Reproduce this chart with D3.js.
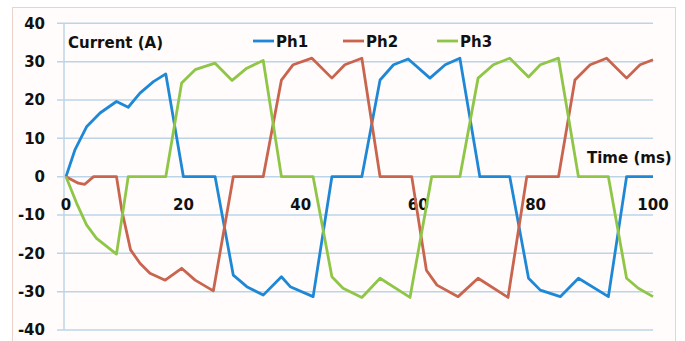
<!DOCTYPE html>
<html>
    <head>
        <script src="https://d3js.org/d3.v7.min.js"></script>
        <style>
            body { margin: 0; background: #ffffff; }
            text { font-family: "DejaVu Sans", sans-serif; font-weight: bold; font-size: 15px; fill: #111111; }
        </style>
    </head>

    <body>

        <div id="chart-container"></div>

        <script>

            // Data
            var ph1Time = [0, 1.5, 3.5, 5.8, 8.6, 10.6, 12.6, 14.9, 17.0, 20.0, 25.4, 28.5, 30.8, 33.6, 36.7, 38.2, 42.1, 45.3, 50.4, 53.5, 55.8, 58.3, 62.0, 64.6, 67.1, 70.5, 75.6, 78.8, 80.8, 84.2, 87.3, 92.4, 95.5, 100];
            var ph1Values = [0, 6.9, 13, 16.6, 19.6, 18.1, 21.8, 24.8, 26.8, 0, 0, -25.7, -28.7, -30.9, -26.1, -28.7, -31.3, 0, 0, 25.2, 29.2, 30.7, 25.7, 29.2, 30.9, 0, 0, -26.5, -29.6, -31.3, -26.5, -31.3, 0, 0];

            var ph2Time = [0, 2.1, 3.2, 4.7, 8.6, 9.5, 11.0, 12.6, 14.3, 16.9, 19.7, 22.0, 25.1, 28.5, 33.6, 36.7, 38.7, 41.9, 45.3, 47.5, 50.4, 53.5, 58.9, 61.4, 63.2, 66.8, 70.2, 75.3, 78.5, 83.9, 86.7, 89.3, 92.1, 95.5, 97.8, 100];
            var ph2Values = [0, -1.7, -2, 0, 0, -8.7, -19.1, -22.6, -25.2, -27.0, -23.9, -27, -29.8, 0, 0, 25.2, 29.2, 30.9, 25.7, 29.2, 30.9, 0, 0, -24.4, -28.3, -31.3, -26.5, -31.5, 0, 0, 25.2, 29.2, 30.9, 25.7, 29.2, 30.5];

            var ph3Time = [0, 1.8, 3.5, 5.2, 8.6, 10.6, 17.0, 19.7, 22.0, 25.4, 28.3, 30.8, 33.6, 36.7, 42.1, 45.3, 47.2, 50.4, 53.5, 58.6, 62.3, 67.1, 70.2, 72.8, 75.6, 78.8, 80.8, 83.9, 87.3, 92.4, 95.5, 97.5, 100];
            var ph3Values = [0, -6.9, -12.6, -16.1, -20.2, 0, 0, 24.4, 27.9, 29.6, 25.1, 28.3, 30.3, 0, 0, -26.1, -29.1, -31.5, -26.5, -31.5, 0, 0, 25.7, 29.2, 30.9, 26, 29.2, 30.9, 0, 0, -26.5, -29.1, -31.3];

            var yTicks = [-40, -30, -20, -10, 0, 10, 20, 30, 40];
            var xTicks = [0, 20, 40, 60, 80, 100];
            var seriesNames = ["Ph1", "Ph2", "Ph3"];

            // Colors
            var colors = d3.scaleOrdinal()
                .domain(seriesNames)
                .range(["#1f88d6", "#c9644f", "#8fc647"]);

            var width = 685, height = 341;

            var svg = d3.select("#chart-container")
                .append("svg")
                    .attr("width", width)
                    .attr("height", height);

            // chart frame
            svg.append("rect")
                .attr("x", 12.5)
                .attr("y", 7.5)
                .attr("width", 663)
                .attr("height", 350)
                .style("fill", "#fffcfb")
                .style("stroke", "#ecd2ca")
                .style("stroke-width", 1);

            // scales
            var x = d3.scaleLinear()
                .domain([0, 100])
                .range([66, 653]);

            var y = d3.scaleLinear()
                .domain([-40, 40])
                .range([330, 23.3]);

            // gridlines
            svg.selectAll("gridLines")
                .data(yTicks)
                .enter()
                .append("line")
                    .attr("x1", 57)
                    .attr("x2", x(100))
                    .attr("y1", function(d) { return y(d); })
                    .attr("y2", function(d) { return y(d); })
                    .style("stroke", "#bcd4e8")
                    .style("stroke-width", 1.5);

            // vertical axis line
            svg.append("line")
                .attr("x1", 64)
                .attr("x2", 64)
                .attr("y1", y(40))
                .attr("y2", y(-40))
                .style("stroke", "#bcd4e8")
                .style("stroke-width", 1.5);

            // Y labels
            svg.selectAll("yLabels")
                .data(yTicks)
                .enter()
                .append("text")
                    .attr("x", 45)
                    .attr("y", function(d) { return y(d); })
                    .attr("dy", "0.36em")
                    .attr("text-anchor", "end")
                    .text(function(d) { return d; });

            // X labels (sit just under the zero line)
            svg.selectAll("xLabels")
                .data(xTicks)
                .enter()
                .append("text")
                    .attr("x", function(d) { return x(d); })
                    .attr("y", y(0) + 33)
                    .attr("text-anchor", "middle")
                    .text(function(d) { return d; });

            svg.append("text")
                .attr("x", 68)
                .attr("y", 48)
                .text("Current (A)");

            svg.append("text")
                .attr("x", 587)
                .attr("y", 163)
                .text("Time (ms)");

            // lines
            var series = [
                {name: "Ph1", t: ph1Time, v: ph1Values},
                {name: "Ph2", t: ph2Time, v: ph2Values},
                {name: "Ph3", t: ph3Time, v: ph3Values}
            ];

            var line = d3.line()
                .x(function(d) { return x(d[0]); })
                .y(function(d) { return y(d[1]); });

            svg.selectAll("seriesLines")
                .data(series)
                .enter()
                .append("path")
                    .attr("d", function(s) { return line(d3.zip(s.t, s.v)); })
                    .style("fill", "none")
                    .style("stroke", function(s) { return colors(s.name); })
                    .style("stroke-width", 2.8)
                    .style("stroke-linejoin", "round");

            // Legend
            var legendX = [253, 343, 437];

            svg.selectAll("legendLines")
                .data(seriesNames)
                .enter()
                .append("line")
                    .attr("x1", function(d, i) { return legendX[i]; })
                    .attr("x2", function(d, i) { return legendX[i] + 21; })
                    .attr("y1", 41)
                    .attr("y2", 41)
                    .style("stroke", function(d) { return colors(d); })
                    .style("stroke-width", 2.8);

            svg.selectAll("legendLabels")
                .data(seriesNames)
                .enter()
                .append("text")
                    .attr("x", function(d, i) { return legendX[i] + 23; })
                    .attr("y", 47)
                    .text(function(d) { return d; });

        </script>
    </body>
</html>
